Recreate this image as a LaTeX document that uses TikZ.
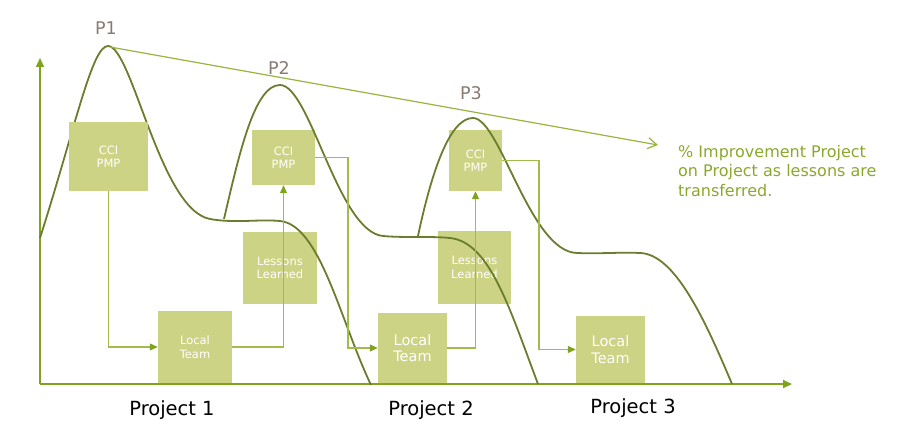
\documentclass[tikz,border=0pt]{standalone}
\usepackage{fontspec}
\setmainfont{DejaVu Sans}
\usetikzlibrary{arrows.meta}
\definecolor{boxfill}{HTML}{CDD385}
\definecolor{curvec}{HTML}{6A7D2E}
\definecolor{axisc}{HTML}{7FA31E}
\definecolor{connc}{HTML}{A2BC4C}
\definecolor{tipc}{HTML}{7FA31E}
\definecolor{trendc}{HTML}{98B53E}
\definecolor{notec}{HTML}{8AA82C}
\definecolor{plabc}{HTML}{877B73}
\tikzset{
  stepbox/.style={fill=boxfill, draw=none, inner sep=0pt, text=white, align=center,
    font=\fontsize{11.5}{13.5}\selectfont},
  bigbox/.style={stepbox, font=\fontsize{14.5}{16.5}\selectfont},
  curveline/.style={draw=curvec, line width=1.8pt},
  conn/.style={draw=connc, line width=1.1pt, -{Triangle[length=8pt,width=7pt,fill=tipc,color=tipc]}},
  connplain/.style={draw=connc, line width=1.1pt},
  axisline/.style={draw=axisc, -{Triangle[length=9pt,width=8pt]}},
  plab/.style={text=plabc, font=\fontsize{17.5}{20}\selectfont, inner sep=0pt},
  projlab/.style={text=black, font=\fontsize{19.5}{22}\selectfont, inner sep=0pt},
}
\begin{document}
\begin{tikzpicture}[x=1pt,y=-1pt]
\useasboundingbox (0,0) rectangle (906,433);
% axes
\coordinate (O) at (40,384);
\coordinate (Ytip) at (40,58);
\coordinate (Xtip) at (792,384);
\draw[axisline, line width=1.6pt] (O) -- (Ytip);
\draw[axisline, line width=2.4pt] (O) -- (Xtip);
% boxes (except the first CCI PMP)
\node[stepbox, minimum width=63pt, minimum height=55pt] (cci2) at (283.5,157.5) {CCI\\PMP};
\node[stepbox, minimum width=53pt, minimum height=61pt] (cci3) at (475.5,160.5) {CCI\\PMP};
\node[stepbox, minimum width=74pt, minimum height=72pt] (ll1) at (280,268) {Lessons\\Learned};
\node[stepbox, minimum width=73pt, minimum height=73pt] (ll2) at (474.5,267.5) {Lessons\\Learned};
\node[stepbox, minimum width=74pt, minimum height=72pt] (lt1) at (195,347) {Local\\Team};
\node[bigbox, minimum width=69pt, minimum height=70pt] (lt2) at (412.5,348) {Local\\Team};
\node[bigbox, minimum width=69pt, minimum height=67pt] (lt3) at (610.5,349.5) {Local\\Team};
% curves
\draw[curveline] (40,238) .. controls (76,125) and (92,46) .. (108,46)
  .. controls (132,46) and (160,210) .. (210,219)
  .. controls (235,223.5) and (258,219) .. (280,221)
  .. controls (320,225) and (340,320) .. (371,385);
\draw[curveline] (224,219) .. controls (240,150) and (255,85) .. (280,85)
  .. controls (310,85) and (338,232) .. (383,236)
  .. controls (405,238) and (430,236) .. (450,238)
  .. controls (490,242) and (510,310) .. (538,384);
\draw[curveline] (418,236) .. controls (432,170) and (450,118) .. (473,118)
  .. controls (500,118) and (530,252) .. (577,253)
  .. controls (600,254) and (620,252) .. (640,253)
  .. controls (675,254) and (705,320) .. (732,384);
% first CCI PMP box covers curve 1
\node[stepbox, minimum width=79pt, minimum height=69pt] (cci1) at (108.5,156.5) {CCI\\PMP};
% connectors
\draw[conn] (cci1.south) |- (lt1.west);
\draw[conn] (lt1.east) -| (cci2.south);
\coordinate (k2) at (348,157.5);
\draw[connplain] (cci2.east) -- (k2);
\draw[conn] (k2) |- (lt2.west);
\draw[conn] (lt2.east) -| (cci3.south);
\coordinate (k3) at (539,160.5);
\draw[connplain] (cci3.east) -- (k3);
\draw[conn] (k3) |- (lt3.west);
% trend line
\coordinate (peak1) at (110,47);
\coordinate (trendtip) at (658,145);
\draw[draw=trendc, line width=1.2pt, -{Straight Barb[length=9pt,width=11pt]}] (peak1) -- (trendtip);
% labels
\node[plab] (p1) at (106,28.5) {P1};
\node[plab] (p2) at (279,68) {P2};
\node[plab] (p3) at (471,93.5) {P3};
\node[projlab] (pr1) at (172,410) {Project 1};
\node[projlab] (pr2) at (431,410) {Project 2};
\node[projlab] (pr3) at (633,408) {Project 3};
\node[text=notec, anchor=north west, inner sep=0pt, align=left,
  font=\fontsize{16}{19.5}\selectfont] (note) at (678,145)
  {\% Improvement Project\\on Project as lessons are\\transferred.};
\end{tikzpicture}
\end{document}
